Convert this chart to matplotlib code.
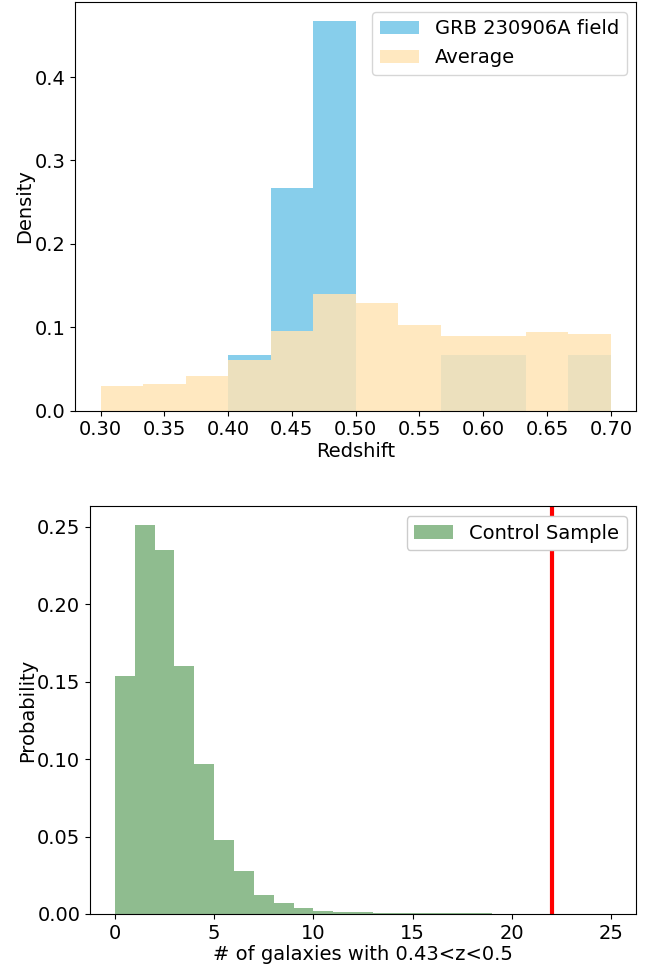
import numpy as np
import matplotlib.pyplot as plt

# Redshift histograms (12 bins between z = 0.3 and 0.7)
z_edges = np.linspace(0.3, 0.7, 13)
grb_density = [0.0, 0.0, 0.0, 1/15, 4/15, 7/15, 0.0, 0.0, 1/15, 1/15, 0.0, 1/15]
avg_density = [0.030, 0.032, 0.042, 0.061, 0.096, 0.140,
               0.129, 0.103, 0.090, 0.090, 0.094, 0.092]

# Control sample: number of galaxies with 0.43<z<0.5, unit bins 0..25
n_edges = np.arange(0, 26)
control_prob = [0.154, 0.251, 0.235, 0.160, 0.097, 0.048, 0.028, 0.0125,
                0.0071, 0.0036, 0.0022, 0.0012, 0.0012, 0.0006, 0.0006,
                0.0006, 0.0006, 0.0006, 0.0006, 0.0, 0.0, 0.0, 0.0, 0.0, 0.0]
grb_count = 22

plt.rcParams['font.size'] = 14

fig = plt.figure(figsize=(6.55, 9.64), dpi=100)

ax1 = fig.add_axes([0.1145, 0.574, 0.857, 0.424])
z_mid = 0.5 * (z_edges[:-1] + z_edges[1:])
ax1.hist(z_mid, bins=z_edges, weights=grb_density, color='skyblue',
         label='GRB 230906A field')
ax1.hist(z_mid, bins=z_edges, weights=avg_density, color='moccasin',
         alpha=0.85, label='Average')
ax1.set_xlabel('Redshift', labelpad=2)
ax1.set_ylabel('Density', labelpad=0)
ax1.set_xticks(np.arange(0.30, 0.701, 0.05))
ax1.set_yticks([0.0, 0.1, 0.2, 0.3, 0.4])
ax1.legend(loc='upper right')

ax2 = fig.add_axes([0.1374, 0.0519, 0.834, 0.4232])
n_mid = 0.5 * (n_edges[:-1] + n_edges[1:])
ax2.hist(n_mid, bins=n_edges, weights=control_prob, color='darkseagreen',
         label='Control Sample')
ax2.axvline(grb_count, color='red', linewidth=3)
ax2.set_xlabel('# of galaxies with 0.43<z<0.5', labelpad=2)
ax2.set_ylabel('Probability', labelpad=0)
ax2.legend(loc='upper right', framealpha=1)

fig.savefig('out.png', dpi=100)
